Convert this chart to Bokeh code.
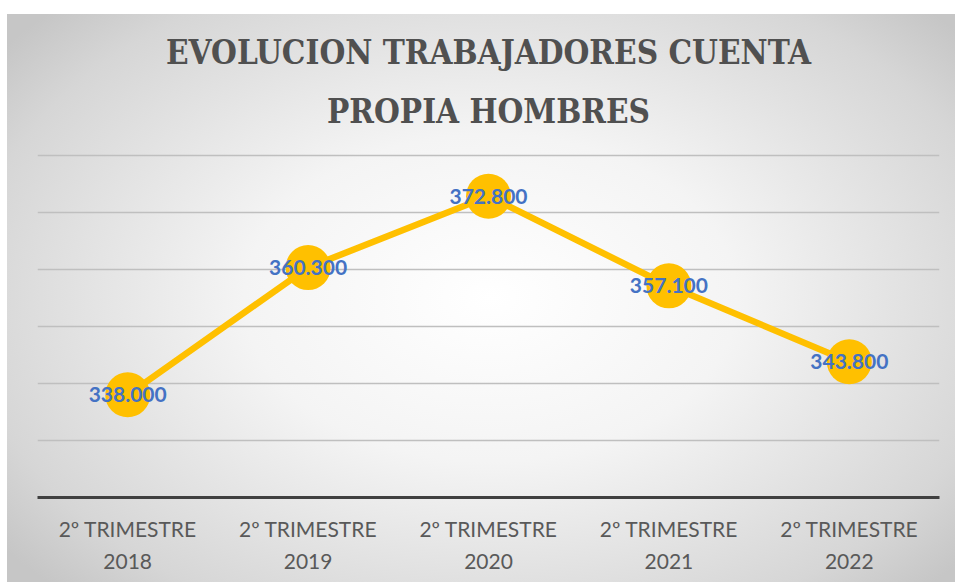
from bokeh.plotting import figure
from bokeh.models import Title, InlineStyleSheet, FixedTicker, Range1d, ColumnDataSource
from bokeh.core.properties import value
from bokeh.embed import file_html
from bokeh.resources import INLINE

categories = ["2º TRIMESTRE\n2018", "2º TRIMESTRE\n2019", "2º TRIMESTRE\n2020",
              "2º TRIMESTRE\n2021", "2º TRIMESTRE\n2022"]
values = [338000, 360300, 372800, 357100, 343800]
value_labels = ["338.000", "360.300", "372.800", "357.100", "343.800"]
grid_ticks = [320000, 330000, 340000, 350000, 360000, 370000, 380000]
title_lines = ["EVOLUCION TRABAJADORES CUENTA", "PROPIA HOMBRES"]

src = ColumnDataSource(dict(x=categories, y=values, t=value_labels))

css = InlineStyleSheet(css=""":host { background: radial-gradient(ellipse 65% 72% at 51% 50%, #ffffff 0%, #f4f4f4 40%, #d6d6d6 85%, #c6c6c6 100%) 7px 14px / calc(100% - 7px) calc(100% - 14px) no-repeat, #ffffff; }""")

p = figure(x_range=categories, y_range=Range1d(320000, 381000),
           width=955, height=582, output_backend="svg", toolbar_location=None,
           min_border_left=37, min_border_right=16, min_border_top=149, min_border_bottom=85,
           stylesheets=[css], title=None)
p.border_fill_color = None
p.background_fill_color = None
p.outline_line_color = None

title_style = dict(align="center", text_font="DejaVu Serif Condensed", text_font_style="bold",
                   text_font_size="33px", text_color="#505050", offset=0)
p.add_layout(Title(text=title_lines[1], standoff=37, **title_style), "above")
p.add_layout(Title(text=title_lines[0], standoff=0, **title_style), "above")

p.line("x", "y", source=src, line_color="#FFC000", line_width=6.5)
p.scatter("x", "y", source=src, size=45, fill_color="#FFC000", line_color=None)
p.text("x", "y", text="t", source=src, text_align="center", text_baseline="middle",
       text_font=value("Lato"), text_font_style="bold", text_font_size="21px",
       text_color="#4472C4")

p.yaxis.visible = False
p.yaxis.ticker = FixedTicker(ticks=grid_ticks)
p.ygrid.grid_line_color = "#bfbfbf"
p.ygrid.grid_line_width = 1.5
p.xgrid.grid_line_color = None

p.xaxis.axis_line_color = "#404040"
p.xaxis.axis_line_width = 3
p.xaxis.major_tick_line_color = None
p.xaxis.minor_tick_line_color = None
p.xaxis.major_label_text_font = "Lato"
p.xaxis.major_label_text_font_size = "21px"
p.xaxis.major_label_text_color = "#595959"
p.xaxis.major_label_text_line_height = 1.3
p.xaxis.major_label_standoff = 12
p.x_range.range_padding = 0

open("out.html", "w").write(file_html(p, INLINE))
